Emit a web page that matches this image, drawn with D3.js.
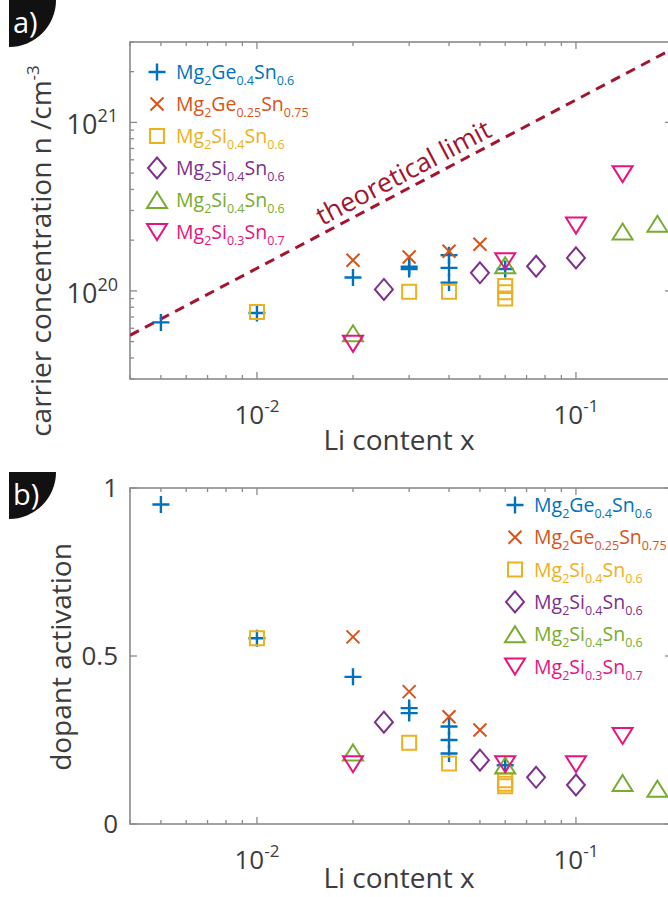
<!DOCTYPE html>
<html><head><meta charset="utf-8">
<script src="https://cdn.jsdelivr.net/npm/d3@7"></script>
<style>body{margin:0;background:#fff}svg{display:block}</style>
</head><body>
<svg id="chart" width="668" height="897"></svg>
<script>
// ---------------- DATA ----------------
const seriesNames = [
  [["Mg",0],["2",1],["Ge",0],["0.4",1],["Sn",0],["0.6",1]],
  [["Mg",0],["2",1],["Ge",0],["0.25",1],["Sn",0],["0.75",1]],
  [["Mg",0],["2",1],["Si",0],["0.4",1],["Sn",0],["0.6",1]],
  [["Mg",0],["2",1],["Si",0],["0.4",1],["Sn",0],["0.6",1]],
  [["Mg",0],["2",1],["Si",0],["0.4",1],["Sn",0],["0.6",1]],
  [["Mg",0],["2",1],["Si",0],["0.3",1],["Sn",0],["0.7",1]]
];
const seriesColors = ["#0072BD","#D95319","#EDB120","#7E2F8E","#77AC30","#E8137F"];
const seriesMarkers = ["plus","cross","square","diamond","triUp","triDown"];

// Li content x for each series
const liX = [
  [0.005, 0.01, 0.02, 0.03, 0.03, 0.04, 0.04, 0.04, 0.06],
  [0.02, 0.03, 0.04, 0.05],
  [0.01, 0.03, 0.04, 0.06, 0.06, 0.06],
  [0.025, 0.05, 0.075, 0.1],
  [0.02, 0.06, 0.14, 0.18],
  [0.02, 0.06, 0.1, 0.14]
];
// carrier concentration n (cm^-3), panel a
const carrierN = [
  [6.5e19, 7.4e19, 1.2e20, 1.39e20, 1.35e20, 1.63e20, 1.37e20, 1.12e20, 1.35e20],
  [1.52e20, 1.59e20, 1.72e20, 1.89e20],
  [7.5e19, 0.99e20, 0.99e20, 1.07e20, 0.98e20, 0.90e20],
  [1.02e20, 1.28e20, 1.40e20, 1.57e20],
  [5.6e19, 1.42e20, 2.25e20, 2.5e20],
  [4.85e19, 1.50e20, 2.44e20, 4.93e20]
];
// dopant activation, panel b
const activation = [
  [0.951, 0.553, 0.438, 0.345, 0.33, 0.29, 0.25, 0.21, 0.175],
  [0.557, 0.394, 0.319, 0.28],
  [0.553, 0.242, 0.18, 0.13, 0.12, 0.112],
  [0.303, 0.19, 0.139, 0.116],
  [0.213, 0.174, 0.122, 0.105],
  [0.178, 0.178, 0.178, 0.262]
];
// theoretical limit line
const limitX = [0.004, 0.2];
const limitN = [5.45e19, 2.72e21];

// ticks
const xDomain = [0.004, 0.2];
const xMajor = [0.01, 0.1];
const xMajorExp = ["-2", "-1"];
const nDomain = [3e19, 3e21];
const nMajor = [1e20, 1e21];
const nMajorExp = ["20", "21"];
const actTicks = [0, 0.5, 1];
const actTickLabels = ["0", "0.5", "1"];

// ---------------- DRAW ----------------
const svg = d3.select("#chart");
const FONT = "'Open Sans', 'Noto Sans', sans-serif";
const TXT = "#3c3c3c";
const AX = "#8a8a8a";

const L = 130, R = 672;
const aTop = 42, aBot = 379, bTop = 488, bBot = 824;

const x = d3.scaleLog().domain(xDomain).range([L, R]);
const yA = d3.scaleLog().domain(nDomain).range([aBot, aTop]);
const yB = d3.scaleLinear().domain([0, 1]).range([bBot, bTop]);

function markerPath(type) {
  switch (type) {
    case "plus": return "M-8.5,0H8.5M0,-8.5V8.5";
    case "cross": return "M-6.5,-6.5L6.5,6.5M-6.5,6.5L6.5,-6.5";
    case "square": return "M-7,-7H7V7H-7Z";
    case "diamond": return "M0,-10.5L9,0L0,10.5L-9,0Z";
    case "triUp": return "M0,-8L10,8L-10,8Z";
    case "triDown": return "M0,8L10,-8L-10,-8Z";
  }
}

function drawMarks(g, xs, ys, yScale, si) {
  g.selectAll(null).data(xs.map((v, i) => [v, ys[i]])).join("path")
    .attr("d", markerPath(seriesMarkers[si]))
    .attr("transform", d => `translate(${x(d[0])},${yScale(d[1])})`)
    .attr("fill", "none")
    .attr("stroke", seriesColors[si])
    .attr("stroke-width", seriesMarkers[si] === "plus" ? 2.4 : 2);
}

function drawFrame(top, bot, yScale, yMajor, yMinor) {
  const g = svg.append("g");
  const tickStyle = sel => sel.attr("stroke", AX).attr("stroke-width", 1.3);
  const xMinor = x.ticks().filter(v => !xMajor.some(m => Math.abs(m - v) < 1e-9));
  [[bot, -1], [top, 1]].forEach(([yy, dir]) => {
    g.selectAll(null).data(xMajor).join("line")
      .attr("x1", d => x(d)).attr("x2", d => x(d))
      .attr("y1", yy).attr("y2", yy + dir * 7).call(tickStyle);
    g.selectAll(null).data(xMinor).join("line")
      .attr("x1", d => x(d)).attr("x2", d => x(d))
      .attr("y1", yy).attr("y2", yy + dir * 4).call(tickStyle);
  });
  [[L, 1], [R, -1]].forEach(([xx, dir]) => {
    g.selectAll(null).data(yMajor).join("line")
      .attr("x1", xx).attr("x2", xx + dir * 7)
      .attr("y1", d => yScale(d)).attr("y2", d => yScale(d)).call(tickStyle);
    g.selectAll(null).data(yMinor).join("line")
      .attr("x1", xx).attr("x2", xx + dir * 4)
      .attr("y1", d => yScale(d)).attr("y2", d => yScale(d)).call(tickStyle);
  });
  g.append("rect").attr("x", L).attr("y", top).attr("width", R - L).attr("height", bot - top)
    .attr("fill", "none").attr("stroke", AX).attr("stroke-width", 1.6);
  xMajor.forEach((v, i) => {
    const t = g.append("text").attr("x", x(v)).attr("y", bot + 45)
      .attr("text-anchor", "middle").attr("font-family", FONT).attr("fill", TXT).attr("font-size", 26);
    t.append("tspan").text("10");
    t.append("tspan").attr("dy", -12).attr("font-size", 17).text(xMajorExp[i]);
  });
}

function panelLabel(y0, label) {
  svg.append("path")
    .attr("d", `M9,${y0}H56A47,47 0 0 1 9,${y0 + 47}Z`)
    .attr("fill", "#111");
  svg.append("text").attr("x", 13).attr("y", y0 + 33).attr("fill", "#fff")
    .attr("font-family", FONT).attr("font-size", 29).text(label);
}

function legend(x0, y0, dy) {
  seriesNames.forEach((parts, i) => {
    const yy = y0 + i * dy;
    svg.append("path").attr("d", markerPath(seriesMarkers[i]))
      .attr("transform", `translate(${x0},${yy})`)
      .attr("fill", "none").attr("stroke", seriesColors[i])
      .attr("stroke-width", seriesMarkers[i] === "plus" ? 2.4 : 2);
    const t = svg.append("text").attr("x", x0 + 19).attr("y", yy + 7)
      .attr("font-family", FONT).attr("font-size", 19.5).attr("fill", seriesColors[i]);
    let prevSub = false;
    parts.forEach(([s, sub]) => {
      const ts = t.append("tspan").text(s);
      if (sub && !prevSub) ts.attr("dy", 6).attr("font-size", 12.5);
      else if (!sub && prevSub) ts.attr("dy", -6);
      else if (sub) ts.attr("font-size", 12.5);
      prevSub = !!sub;
    });
  });
}

// ---- Panel a ----
const nMinor = yA.ticks().filter(v => !nMajor.some(m => Math.abs(m - v) / m < 1e-9));
drawFrame(aTop, aBot, yA, nMajor, nMinor);
nMajor.forEach((v, i) => {
  const t = svg.append("text").attr("x", 118).attr("y", yA(v) + 12)
    .attr("text-anchor", "end").attr("font-family", FONT).attr("fill", TXT).attr("font-size", 27);
  t.append("tspan").text("10");
  t.append("tspan").attr("dy", -12).attr("font-size", 18).text(nMajorExp[i]);
});

svg.append("clipPath").attr("id", "clipA").append("rect")
  .attr("x", L).attr("y", aTop).attr("width", R - L).attr("height", aBot - aTop);
const line = d3.line().x(d => x(d[0])).y(d => yA(d[1]));
svg.append("path").datum(limitX.map((v, i) => [v, limitN[i]]))
  .attr("d", line).attr("clip-path", "url(#clipA)")
  .attr("fill", "none").attr("stroke", "#A2142F").attr("stroke-width", 3)
  .attr("stroke-dasharray", "10,7");

{
  const p0 = [x(limitX[0]), yA(limitN[0])], p1 = [x(limitX[1]), yA(limitN[1])];
  const ang = Math.atan2(p1[1] - p0[1], p1[0] - p0[0]);
  const xm = 411;
  const ym = p0[1] + (xm - p0[0]) * Math.tan(ang);
  const off = 7;
  const px = xm + Math.sin(ang) * off, py = ym - Math.cos(ang) * off;
  svg.append("text").attr("transform", `translate(${px},${py}) rotate(${ang * 180 / Math.PI})`)
    .attr("text-anchor", "middle").attr("font-family", FONT).attr("font-size", 26.5)
    .attr("fill", "#A2142F").text("theoretical limit");
}

const gA = svg.append("g");
liX.forEach((xs, si) => drawMarks(gA, xs, carrierN[si], yA, si));
legend(157, 72, 32);

svg.append("text").attr("x", 399).attr("y", 450).attr("text-anchor", "middle")
  .attr("font-family", FONT).attr("font-size", 28).attr("fill", TXT).text("Li content x");
{
  const t = svg.append("text").attr("transform", "translate(51,251) rotate(-90)")
    .attr("text-anchor", "middle").attr("font-family", FONT).attr("font-size", 28).attr("fill", TXT);
  t.append("tspan").text("carrier concentration n /cm");
  t.append("tspan").attr("dy", -12).attr("font-size", 17).text("-3");
}
panelLabel(0, "a)");

// ---- Panel b ----
drawFrame(bTop, bBot, yB, actTicks, []);
actTicks.forEach((v, i) => {
  svg.append("text").attr("x", 118).attr("y", yB(v) + 9)
    .attr("text-anchor", "end").attr("font-family", FONT).attr("fill", TXT).attr("font-size", 26)
    .text(actTickLabels[i]);
});
const gB = svg.append("g");
liX.forEach((xs, si) => drawMarks(gB, xs, activation[si], yB, si));
legend(515, 505, 32.3);

svg.append("text").attr("x", 399).attr("y", 888).attr("text-anchor", "middle")
  .attr("font-family", FONT).attr("font-size", 28).attr("fill", TXT).text("Li content x");
svg.append("text").attr("transform", "translate(71,657) rotate(-90)")
  .attr("text-anchor", "middle").attr("font-family", FONT).attr("font-size", 28).attr("fill", TXT)
  .text("dopant activation");
panelLabel(472, "b)");
</script>
</body></html>
